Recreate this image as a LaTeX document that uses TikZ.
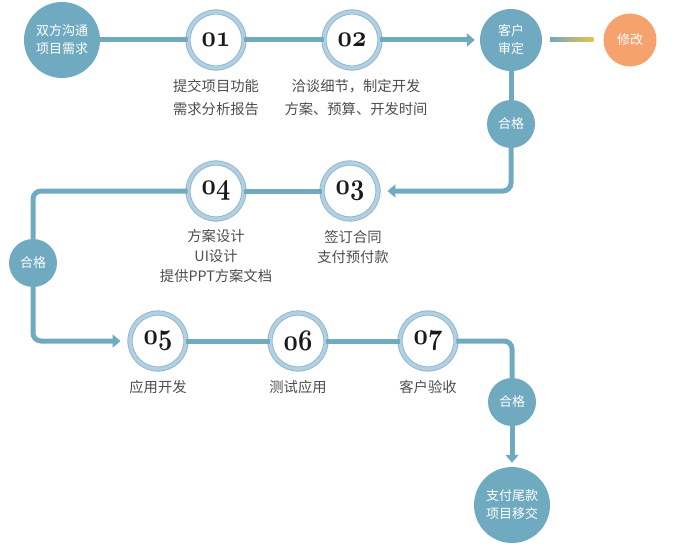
\documentclass[tikz,border=0pt]{standalone}
\usepackage{graphicx}
\usepackage{fontspec}
\newfontfamily\cjk{Noto Sans CJK SC}
\usepackage{tikz}
\usetikzlibrary{arrows.meta,calc,positioning}
\definecolor{FlowBlue}{HTML}{6FAAC1}
\definecolor{FlowRing}{HTML}{B3D0E2}
\definecolor{FlowRingEdge}{HTML}{8DB6CF}
\definecolor{FlowOrange}{HTML}{F5A26F}
\definecolor{FlowGold}{HTML}{E8C14E}
\definecolor{FlowText}{HTML}{4D4D4D}
\newcommand{\stepnum}[1]{\scalebox{1}[1.2]{\Huge\boldmath$\mathnormal{#1}$}}

\begin{document}
\begin{tikzpicture}[x=1pt,y=-1pt,
  ball/.style={circle,fill=FlowBlue,text=white,align=center,inner sep=0pt,font=\cjk\fontsize{13}{18}\selectfont},
  ring/.style={circle,draw=FlowRingEdge,double=FlowRing,double distance=3.4pt,line width=0.9pt,fill=white,minimum size=56pt,inner sep=0pt,text=black!90},
  lbl/.style={text=FlowText,align=center,font=\cjk\fontsize{14.3}{20}\selectfont},
  flow/.style={FlowBlue,line width=5pt,rounded corners=8pt},
  tip/.style={-{Triangle[length=8pt,width=13pt]}}]
\useasboundingbox (0,0) rectangle (690,543);
% steps and checkpoints
\node[ball,minimum size=76pt] (start) at (62,40) {双方沟通\\项目需求};
\node[ring] (n01) at (216,40) {\stepnum{01}};
\node[ring] (n02) at (352,40) {\stepnum{02}};
\node[ball,minimum size=62pt] (audit) at (511,40) {客户\\审定};
\node[ball,fill=FlowOrange,minimum size=53pt] (revise) at (630,40) {修改};
\node[ball,minimum size=48pt] (pass1) at (511,124) {合格};
\node[ring] (n03) at (350,191) {\stepnum{03}};
\node[ring] (n04) at (216,191) {\stepnum{04}};
\node[ball,minimum size=48pt] (pass2) at (33,263) {合格};
\node[ring] (n05) at (158,341) {\stepnum{05}};
\node[ring] (n06) at (298,341) {\stepnum{06}};
\node[ring] (n07) at (428,341) {\stepnum{07}};
\node[ball,minimum size=48pt] (pass3) at (512,402) {合格};
\node[ball,minimum size=76pt] (finish) at (512,505) {支付尾款\\项目移交};
% connectors
\draw[flow] (start) -- (n01);
\draw[flow] (n01) -- (n02);
\draw[flow,tip,shorten >=5pt] (n02) -- (audit);
\shade[left color=FlowBlue,right color=FlowGold] ($(audit.east)+(8,-2)$) rectangle ($(revise.west)+(-10,2)$);
\draw[flow] (audit) -- (pass1);
\draw[flow,tip,shorten >=9pt] (pass1) |- (n03);
\draw[flow] (n03) -- (n04);
\draw[flow] (n04) -| (pass2);
\draw[flow,tip,shorten >=9pt] (pass2) |- (n05);
\draw[flow] (n05) -- (n06);
\draw[flow] (n06) -- (n07);
\draw[flow] (n07) -| (pass3);
\draw[flow,tip,shorten >=4pt] (pass3) -- (finish);
% captions
\node[lbl,below=7pt of n01] (t01) {提交项目功能\\[3pt]需求分析报告};
\node[lbl,below=7pt of n02,xshift=4pt] (t02) {洽谈细节，制定开发\\[3pt]方案、预算、开发时间};
\node[lbl,below=7pt of n03,xshift=3pt] (t03) {签订合同\\支付预付款};
\node[lbl,below=6pt of n04] (t04) {方案设计\\UI设计\\提供PPT方案文档};
\node[lbl,below=7pt of n05] (t05) {应用开发};
\node[lbl,below=7pt of n06] (t06) {测试应用};
\node[lbl,below=7pt of n07] (t07) {客户验收};
\end{tikzpicture}
\end{document}
